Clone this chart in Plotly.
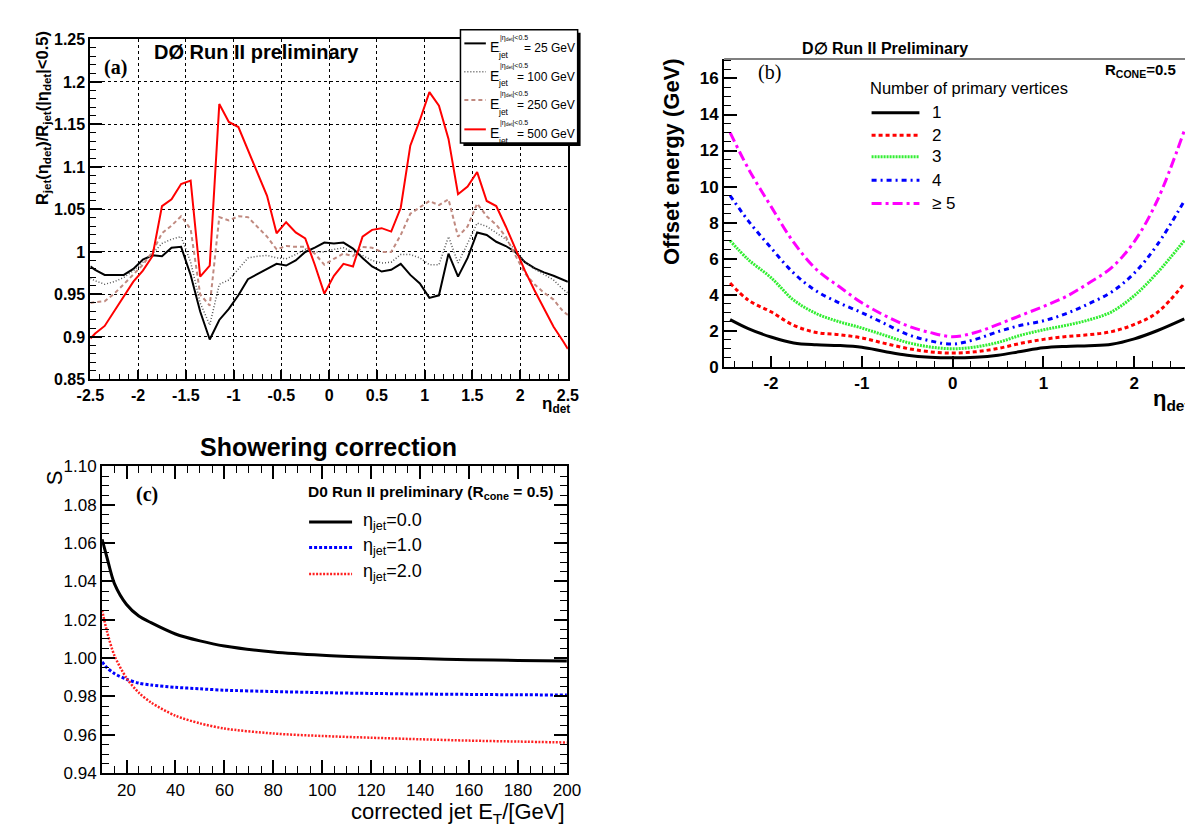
import plotly.graph_objects as go

W, H = 1193, 826
SANS = "Liberation Sans, Arial, Helvetica, sans-serif"
SERIF = "Liberation Serif, Times New Roman, serif"

# ---------------- Panel (a) data ----------------
eta_a = [-2.5, -2.45, -2.35, -2.25, -2.15, -2.05, -1.95, -1.85, -1.75, -1.65, -1.55,
         -1.45, -1.35, -1.25, -1.15, -1.05, -0.95, -0.85, -0.75, -0.65, -0.55, -0.45, -0.35, -0.25, -0.15, -0.05,
         0.05, 0.15, 0.25, 0.35, 0.45, 0.55, 0.65, 0.75, 0.85, 0.95, 1.05, 1.15, 1.25, 1.35, 1.45,
         1.55, 1.65, 1.75, 1.85, 1.95, 2.05, 2.15, 2.25, 2.35, 2.45, 2.5]
r_25 = [0.983, 0.979, 0.973, 0.973, 0.973, 0.980, 0.991, 0.996, 0.995, 1.005, 1.006,
        0.973, 0.930, 0.897, 0.920, 0.933, 0.949, 0.968, 0.974, 0.980, 0.986, 0.984, 0.990, 1.000, 1.005, 1.011,
        1.010, 1.011, 1.004, 0.993, 0.983, 0.977, 0.979, 0.986, 0.973, 0.963, 0.946, 0.949, 0.998, 0.971, 0.993,
        1.023, 1.020, 1.012, 1.007, 1.000, 0.988, 0.981, 0.976, 0.972, 0.967, 0.965]
r_100 = [0.969, 0.966, 0.962, 0.965, 0.970, 0.978, 0.988, 0.998, 1.010, 1.015, 1.018,
         0.988, 0.940, 0.914, 0.962, 0.967, 0.980, 0.993, 0.995, 0.996, 0.993, 0.992, 0.997, 1.003, 1.000, 1.000,
         1.003, 1.005, 1.000, 0.996, 0.990, 0.987, 0.988, 0.997, 0.997, 0.993, 0.985, 0.985, 1.018, 0.987, 1.010,
         1.034, 1.030, 1.022, 1.015, 1.002, 0.988, 0.980, 0.973, 0.967, 0.956, 0.952]
r_250 = [0.940, 0.941, 0.942, 0.951, 0.962, 0.973, 0.985, 1.000, 1.022, 1.031, 1.042,
         1.027, 0.950, 0.937, 1.041, 1.037, 1.042, 1.041, 1.030, 1.018, 1.003, 1.007, 1.006, 1.006, 0.998, 0.985,
         0.992, 0.998, 0.995, 1.006, 1.005, 1.000, 1.000, 1.020, 1.045, 1.053, 1.060, 1.055, 1.062, 1.018, 1.030,
         1.057, 1.042, 1.032, 1.018, 0.996, 0.975, 0.962, 0.952, 0.944, 0.930, 0.926]
r_500 = [0.898, 0.904, 0.913, 0.930, 0.948, 0.965, 0.978, 0.995, 1.054, 1.062, 1.080,
         1.084, 0.971, 0.984, 1.174, 1.153, 1.147, 1.120, 1.092, 1.066, 1.022, 1.035, 1.023, 1.016, 0.985, 0.951,
         0.972, 0.986, 0.983, 1.018, 1.026, 1.028, 1.024, 1.052, 1.125, 1.155, 1.188, 1.172, 1.133, 1.068, 1.077,
         1.094, 1.060, 1.054, 1.030, 1.003, 0.978, 0.955, 0.933, 0.912, 0.895, 0.886]
xt_a = [-2.5, -2, -1.5, -1, -0.5, 0, 0.5, 1, 1.5, 2, 2.5]
xt_a_text = ["-2.5", "-2", "-1.5", "-1", "-0.5", "0", "0.5", "1", "1.5", "2", "2.5"]
yt_a = [0.85, 0.9, 0.95, 1.0, 1.05, 1.1, 1.15, 1.2, 1.25]
yt_a_text = ["0.85", "0.9", "0.95", "1", "1.05", "1.1", "1.15", "1.2", "1.25"]
leg_a = ["25 GeV", "100 GeV", "250 GeV", "500 GeV"]

# ---------------- Panel (b) data ----------------
eta_b = [-2.45, -2.25, -2.0, -1.75, -1.5, -1.25, -1.0, -0.75, -0.5, -0.25, 0.0,
         0.25, 0.5, 0.75, 1.0, 1.25, 1.5, 1.75, 2.0, 2.25, 2.55]
off_1 = [2.62, 2.12, 1.65, 1.32, 1.22, 1.18, 1.08, 0.85, 0.64, 0.53, 0.50,
         0.53, 0.64, 0.85, 1.05, 1.13, 1.17, 1.25, 1.55, 2.00, 2.66]
off_2 = [4.65, 3.70, 3.05, 2.30, 1.90, 1.78, 1.60, 1.30, 1.02, 0.83, 0.76,
         0.83, 1.02, 1.30, 1.52, 1.68, 1.78, 1.95, 2.35, 3.00, 4.62]
off_3 = [7.00, 5.95, 4.95, 3.70, 2.95, 2.50, 2.15, 1.75, 1.35, 1.10, 1.00,
         1.10, 1.35, 1.75, 2.05, 2.30, 2.60, 3.05, 3.95, 5.20, 7.00]
off_4 = [9.50, 8.10, 6.60, 5.20, 4.20, 3.55, 3.00, 2.40, 1.80, 1.44, 1.26,
         1.52, 1.95, 2.30, 2.55, 2.95, 3.50, 4.15, 5.20, 6.75, 9.20]
off_5 = [13.0, 11.0, 8.90, 6.90, 5.40, 4.45, 3.55, 2.85, 2.28, 1.90, 1.67,
         1.90, 2.35, 2.85, 3.35, 3.90, 4.65, 5.50, 6.95, 9.20, 13.1]
leg_b = ["1", "2", "3", "4", "\u2265 5"]
xt_b = [-2, -1, 0, 1, 2]
xt_b_text = ["-2", "-1", "0", "1", "2"]
yt_b = [0, 2, 4, 6, 8, 10, 12, 14, 16]
yt_b_text = ["0", "2", "4", "6", "8", "10", "12", "14", "16"]

# ---------------- Panel (c) data ----------------
et_c = [10, 12, 15, 20, 25, 30, 40, 50, 60, 80, 100, 120, 140, 160, 180, 200]
s_eta0 = [1.062, 1.0525, 1.039, 1.028, 1.022, 1.0185, 1.0126, 1.0090, 1.0063, 1.0032, 1.0015, 1.0005, 0.9998, 0.9992, 0.9988, 0.9985]
s_eta1 = [0.998, 0.995, 0.992, 0.989, 0.987, 0.986, 0.9848, 0.984, 0.9833, 0.9826, 0.982, 0.9816, 0.9813, 0.9811, 0.9809, 0.9808]
s_eta2 = [1.025, 1.014, 1.0015, 0.9896, 0.982, 0.9769, 0.970, 0.966, 0.9633, 0.9607, 0.9594, 0.9585, 0.9577, 0.9570, 0.9565, 0.956]
leg_c = ["0.0", "1.0", "2.0"]
xt_c = [20, 40, 60, 80, 100, 120, 140, 160, 180, 200]
xt_c_text = ["20", "40", "60", "80", "100", "120", "140", "160", "180", "200"]
yt_c = [0.94, 0.96, 0.98, 1.00, 1.02, 1.04, 1.06, 1.08, 1.10]
yt_c_text = ["0.94", "0.96", "0.98", "1.00", "1.02", "1.04", "1.06", "1.08", "1.10"]


def fx(px):
    return px / W


def fy(py):
    return 1 - py / H


def ann(text, x, y, size, xanchor="center", yanchor="middle", bold=False,
        family=SANS, angle=0, color="black"):
    return dict(text=text, x=fx(x), y=fy(y), xref="paper", yref="paper", showarrow=False,
                xanchor=xanchor, yanchor=yanchor, textangle=angle,
                font=dict(size=size, family=family, color=color,
                          weight="bold" if bold else "normal"))


def pline(x0, y0, x1, y1, color, width, dash="solid"):
    return dict(type="line", xref="paper", yref="paper", x0=fx(x0), y0=fy(y0),
                x1=fx(x1), y1=fy(y1), line=dict(color=color, width=width, dash=dash))


fig = go.Figure()

# Panel (a) traces
sty_a = [("black", 2, "solid"), ("#555555", 1.5, "1px,2px"),
         ("#c08a80", 2, "4px,3px"), ("#ff0000", 2, "solid")]
for ys, (c, w, d), nm in zip([r_25, r_100, r_250, r_500], sty_a, leg_a):
    fig.add_trace(go.Scatter(x=eta_a, y=ys, mode="lines", name=nm,
                             line=dict(color=c, width=w, dash=d),
                             xaxis="x", yaxis="y", showlegend=False))

# Panel (b) traces
sty_b = [("black", 3, "solid"), ("#ff0000", 3, "4px,3px"), ("#33ee33", 3, "2px,1px"),
         ("#0000ff", 3, "5px,4px,2px,4px"), ("#ff00ff", 3, "10px,4px,3px,4px")]
for ys, (c, w, d), nm in zip([off_1, off_2, off_3, off_4, off_5], sty_b, leg_b):
    fig.add_trace(go.Scatter(x=eta_b, y=ys, mode="lines", name=nm,
                             line=dict(color=c, width=w, dash=d, shape="spline", smoothing=1.0),
                             xaxis="x2", yaxis="y2", showlegend=False))

# Panel (c) traces
sty_c = [("black", 3, "solid"), ("#0000ff", 3, "3px,2px"), ("#ff2020", 2.5, "2px,1.5px")]
for ys, (c, w, d), nm in zip([s_eta0, s_eta1, s_eta2], sty_c, leg_c):
    fig.add_trace(go.Scatter(x=et_c, y=ys, mode="lines", name=nm,
                             line=dict(color=c, width=w, dash=d, shape="spline", smoothing=0.8),
                             xaxis="x3", yaxis="y3", showlegend=False))

bold_tick = dict(family=SANS, size=16, color="black", weight="bold")
norm_tick = dict(family=SANS, size=17, color="black")

fig.update_layout(
    width=W, height=H, margin=dict(l=0, r=0, t=0, b=0),
    paper_bgcolor="white", plot_bgcolor="white", showlegend=False,
    xaxis=dict(domain=[fx(70), fx(559)], range=[-2.5, 2.5], anchor="y",
               tickmode="array", tickvals=xt_a, ticktext=xt_a_text,
               ticks="inside", ticklen=9, tickwidth=1.5, tickcolor="black",
               minor=dict(tickmode="linear", tick0=0, dtick=0.1, ticks="inside", ticklen=5,
                          tickwidth=1, tickcolor="black", showgrid=False),
               showgrid=True, gridcolor="black", griddash="dot", gridwidth=1,
               showline=True, linecolor="black", linewidth=2, mirror=True,
               zeroline=False, tickfont=bold_tick),
    yaxis=dict(domain=[fy(371), fy(23)], range=[0.85, 1.25], anchor="x",
               tickmode="array", tickvals=yt_a, ticktext=yt_a_text,
               ticks="inside", ticklen=12, tickwidth=1.5, tickcolor="black",
               minor=dict(tickmode="linear", tick0=0, dtick=0.01, ticks="inside", ticklen=6,
                          tickwidth=1, tickcolor="black", showgrid=False),
               showgrid=True, gridcolor="black", griddash="dot", gridwidth=1,
               showline=True, linecolor="black", linewidth=2, mirror=True,
               zeroline=False, tickfont=bold_tick),
    xaxis2=dict(domain=[fx(719), 1.0], range=[-2.516, 2.58], anchor="y2",
                tickmode="array", tickvals=xt_b, ticktext=xt_b_text,
                ticks="inside", ticklen=11, tickwidth=1.5, tickcolor="black",
                minor=dict(tickmode="linear", tick0=0, dtick=0.2, ticks="inside", ticklen=6,
                           tickwidth=1, tickcolor="black", showgrid=False),
                showgrid=False, showline=True, linecolor="black", linewidth=2,
                zeroline=False, tickfont=dict(family=SANS, size=17, color="black", weight="bold")),
    yaxis2=dict(domain=[fy(358), fy(43)], range=[0, 17.08], anchor="x2",
                tickmode="array", tickvals=yt_b, ticktext=yt_b_text,
                ticks="inside", ticklen=13, tickwidth=1.5, tickcolor="black",
                minor=dict(tickmode="linear", tick0=0, dtick=0.5, ticks="inside", ticklen=7,
                           tickwidth=1, tickcolor="black", showgrid=False),
                showgrid=False, showline=True, linecolor="black", linewidth=2,
                zeroline=False, tickfont=dict(family=SANS, size=17, color="black", weight="bold")),
    xaxis3=dict(domain=[fx(82), fx(558)], range=[10, 200], anchor="y3",
                tickmode="array", tickvals=xt_c, ticktext=xt_c_text,
                ticks="inside", ticklen=13, tickwidth=1.5, tickcolor="black",
                minor=dict(tickmode="linear", tick0=0, dtick=5, ticks="inside", ticklen=7,
                           tickwidth=1, tickcolor="black", showgrid=False),
                showgrid=False, showline=True, linecolor="black", linewidth=2, mirror="ticks",
                zeroline=False, tickfont=norm_tick),
    yaxis3=dict(domain=[fy(774), fy(460)], range=[0.94, 1.10], anchor="x3",
                tickmode="array", tickvals=yt_c, ticktext=yt_c_text,
                ticks="inside", ticklen=13, tickwidth=1.5, tickcolor="black",
                minor=dict(tickmode="linear", tick0=0, dtick=0.005, ticks="inside", ticklen=7,
                           tickwidth=1, tickcolor="black", showgrid=False),
                showgrid=False, showline=True, linecolor="black", linewidth=2, mirror="ticks",
                zeroline=False, tickfont=norm_tick),
)

shapes = []
annots = []

# ---------- Panel (a) decorations ----------
annots.append(ann("DØ Run II preliminary", 133, 36, 20, xanchor="left", bold=True))
annots.append(ann("(a)", 82, 52, 20, xanchor="left", bold=True, family=SERIF))
annots.append(ann("R<sub>jet</sub>(η<sub>det</sub>)/R<sub>jet</sub>(|η<sub>det</sub>|&lt;0.5)",
                  21, 104, 16.5, bold=True, angle=-90))
annots.append(ann("η<sub>det</sub>", 547, 397, 17, bold=True))

# legend box with shadow
shapes.append(dict(type="rect", xref="paper", yref="paper", x0=fx(452), y0=fy(132), x1=fx(572), y1=fy(16),
                   fillcolor="black", line=dict(width=0)))
shapes.append(dict(type="rect", xref="paper", yref="paper", x0=fx(449), y0=fy(129), x1=fx(569), y1=fy(13),
                   fillcolor="white", line=dict(color="black", width=1.5)))
leg_y = [28, 57, 86, 116]
for (c, w, d), yy, lab in zip(sty_a, leg_y, leg_a):
    shapes.append(pline(453, yy - 1, 475, yy - 1, c, w, d))
    annots.append(ann("E", 477, yy + 3, 14, xanchor="left"))
    annots.append(ann("jet", 485, yy + 11, 8.5, xanchor="left"))
    annots.append(ann("|η<sub>det</sub>|&lt;0.5", 487, yy - 7, 7, xanchor="left"))
    annots.append(ann("= " + lab, 568, yy + 4, 12, xanchor="right"))

# ---------- Panel (b) decorations ----------
shapes.append(pline(719, 43, 1193, 43, "#555555", 1.5))
annots.append(ann("D∅ Run II Preliminary", 797, 32, 16, xanchor="left", bold=True))
annots.append(ann("(b)", 752, 57, 20, xanchor="left", family=SERIF))
annots.append(ann("R<sub>CONE</sub>=0.5", 1107, 55, 15, xanchor="left", bold=True))
annots.append(ann("Offset energy (GeV)", 665, 148, 22, bold=True, angle=-90))
annots.append(ann("η<sub>det</sub>", 1177, 392, 22, bold=True))
annots.append(ann("Number of primary vertices", 866, 73, 16.5, xanchor="left"))
leg_b_y = [98, 121, 143, 167, 191]
for (c, w, d), yy, lab in zip(sty_b, leg_b_y, leg_b):
    shapes.append(pline(870, yy, 919, yy, c, w, d))
    annots.append(ann(lab, 930, yy, 17, xanchor="left"))

# ---------- Panel (c) decorations ----------
annots.append(ann("Showering correction", 314, 440, 25, bold=True))
annots.append(ann("S", 33, 472, 22, angle=-90))
annots.append(ann("(c)", 115, 489, 20, xanchor="left", bold=True, family=SERIF))
annots.append(ann("D0 Run II preliminary (R<sub>cone</sub> = 0.5)", 291, 487, 15.5, xanchor="left", bold=True))
leg_c_y = [517, 543, 570]
for (c, w, d), yy, lab in zip(sty_c, leg_c_y, leg_c):
    shapes.append(pline(294, yy, 338, yy, c, w, d))
    annots.append(ann("η<sub>jet</sub>=" + lab, 347, yy - 1, 18, xanchor="left"))
annots.append(ann("corrected jet E<sub>T</sub>/[GeV]", 558, 815, 22, xanchor="right"))

fig.update_layout(shapes=shapes, annotations=annots)
fig.write_html("out.html")
